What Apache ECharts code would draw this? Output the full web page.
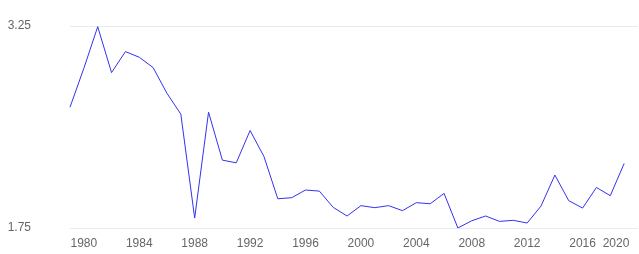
<!DOCTYPE html>
<html>
<head>
<meta charset="utf-8">
<script src="https://cdn.jsdelivr.net/npm/echarts@6/dist/echarts.min.js"></script>
<style>html,body{margin:0;padding:0;background:#fff;}#c{width:639px;height:254px;}</style>
</head>
<body>
<div id="c"></div>
<script>
const years = [];
for (let y = 1979; y <= 2020; y++) years.push(String(y));
const values = [
  2.647, 2.936, 3.245, 2.904, 3.06, 3.018, 2.941, 2.75, 2.595, 1.824,
  2.61, 2.254, 2.234, 2.474, 2.281, 1.967, 1.975, 2.032, 2.024, 1.903,
  1.839, 1.916, 1.901, 1.916, 1.879, 1.938, 1.93, 2.007, 1.75, 1.804,
  1.839, 1.799, 1.807, 1.787, 1.913, 2.143, 1.953, 1.898, 2.051, 1.99,
  2.229, null
];
const yTicks = [1.75, 3.25];
const labelYears = ['1980','1984','1988','1992','1996','2000','2004','2008','2012','2016','2020'];

const chart = echarts.init(document.getElementById('c'));
chart.setOption({
  animation: false,
  grid: { left: 70, right: 1, top: 26, bottom: 26, containLabel: false },
  xAxis: {
    type: 'category',
    data: years,
    boundaryGap: false,
    axisLine: { show: false },
    axisTick: { show: false },
    splitLine: { show: false },
    axisLabel: {
      interval: (i, v) => labelYears.indexOf(v) >= 0,
      margin: 10,
      color: '#666',
      fontSize: 12,
      fontFamily: 'Liberation Sans, Arial, sans-serif',
      formatter: v => v === '2020' ? '{l|' + v + '}' : v,
      rich: { l: { padding: [0, 44, 0, 0], color: '#666', fontSize: 12, fontFamily: 'Liberation Sans, Arial, sans-serif' } }
    }
  },
  yAxis: {
    type: 'value',
    min: 1.75,
    max: 3.25,
    interval: 0.25,
    axisLine: { show: false },
    axisTick: { show: false },
    splitLine: { show: false },
    axisLabel: {
      margin: 39,
      color: '#666',
      fontSize: 12,
      fontFamily: 'Liberation Sans, Arial, sans-serif',
      formatter: v => yTicks.some(t => Math.abs(t - v) < 1e-9) ? v.toFixed(2) : ''
    }
  },
  series: [{
    type: 'line',
    data: values,
    showSymbol: false,
    connectNulls: false,
    lineStyle: { color: '#3333ee', width: 1 },
    markLine: {
      silent: true,
      symbol: 'none',
      label: { show: false },
      lineStyle: { color: '#ebebeb', type: 'solid', width: 1 },
      data: yTicks.map(t => ({ yAxis: t })),
      z: 0
    },
    z: 3
  }]
});
</script>
</body>
</html>
